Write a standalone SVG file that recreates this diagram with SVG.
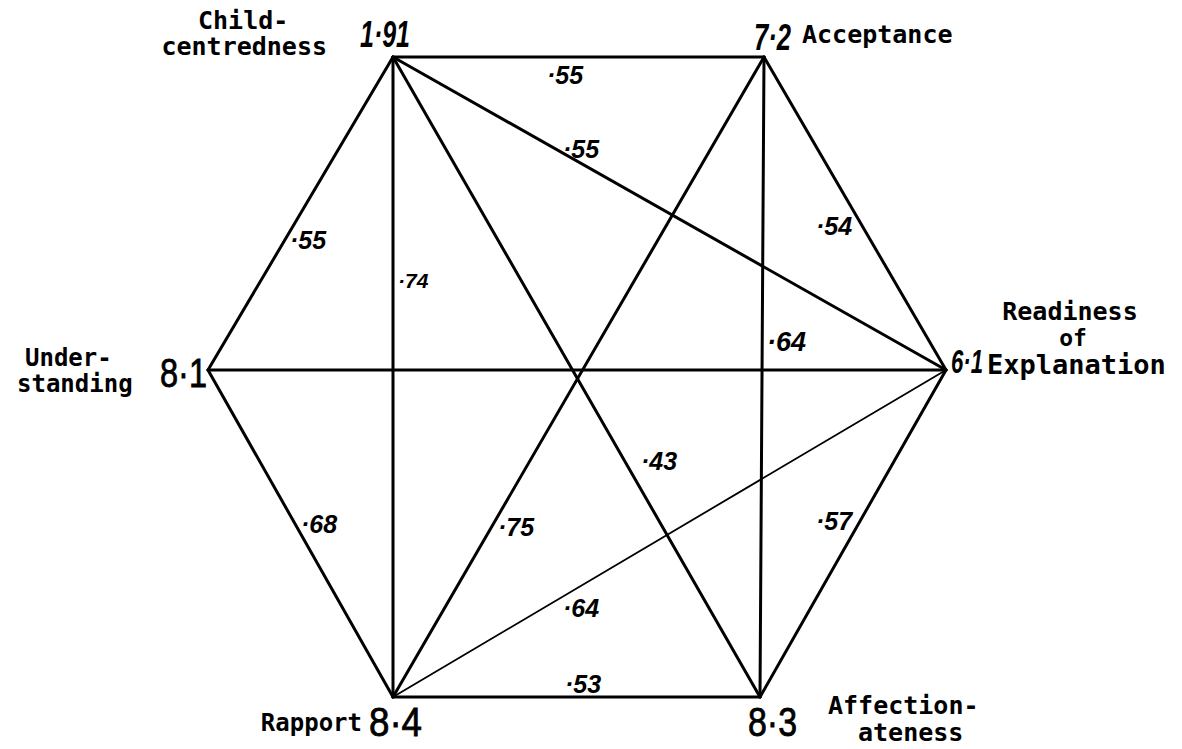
<svg xmlns="http://www.w3.org/2000/svg" width="1182" height="749" viewBox="0 0 1182 749">
<style>
.bg{fill:#fff}
.e{stroke:#000;stroke-width:3;stroke-linecap:round;fill:none}
.thin{stroke-width:1.8}
.lbl{font-family:"DejaVu Sans Mono","Liberation Mono",monospace;font-size:24px;font-weight:bold;fill:#000}
.w{font-family:"Liberation Sans",Arial,sans-serif;font-size:25px;font-weight:bold;font-style:italic;fill:#000}
.v{font-family:"Liberation Sans",Arial,sans-serif;font-size:40px;fill:#000;stroke:#000;stroke-width:0.8}
.vb{font-family:"Liberation Sans",Arial,sans-serif;font-size:36px;font-weight:bold;font-style:italic;fill:#000}
</style>
<rect class="bg" x="0" y="0" width="1182" height="749"/>
<g id="connectors">
<line class="e" x1="393" y1="57" x2="764" y2="57"/>
<line class="e" x1="393" y1="57" x2="946" y2="370"/>
<line class="e" x1="393" y1="57" x2="208" y2="370"/>
<line class="e" x1="393" y1="57" x2="393" y2="697"/>
<line class="e" x1="393" y1="57" x2="760" y2="697"/>
<line class="e" x1="764" y1="57" x2="946" y2="370"/>
<line class="e" x1="764" y1="57" x2="760" y2="697"/>
<line class="e" x1="764" y1="57" x2="393" y2="697"/>
<line class="e" x1="208" y1="370" x2="946" y2="370"/>
<line class="e" x1="208" y1="370" x2="393" y2="697"/>
<line class="e" x1="946" y1="370" x2="760" y2="697"/>
<line class="e thin" x1="946" y1="370" x2="393" y2="697"/>
<line class="e" x1="393" y1="697" x2="760" y2="697"/>
<text class="w" x="547" y="84">·55</text>
<text class="w" x="563" y="158">·55</text>
<text class="w" x="290" y="249">·55</text>
<text class="w" x="398" y="288" style="font-size:21px">·74</text>
<text class="w" x="816" y="235">·54</text>
<text class="w" x="767" y="351" style="font-size:27px">·64</text>
<text class="w" x="641" y="470">·43</text>
<text class="w" x="301" y="533">·68</text>
<text class="w" x="498" y="536">·75</text>
<text class="w" x="816" y="530">·57</text>
<text class="w" x="563" y="617">·64</text>
<text class="w" x="565" y="693">·53</text>
</g>
<g id="child-centredness">
<text class="lbl" x="198" y="29" style="font-size:25px">Child-</text>
<text class="lbl" x="327" y="55" text-anchor="end" style="font-size:25px">centredness</text>
<text class="vb" x="360" y="47" textLength="50" lengthAdjust="spacingAndGlyphs">1·91</text>
</g>
<g id="acceptance">
<text class="vb" x="754" y="50" textLength="37" lengthAdjust="spacingAndGlyphs">7·2</text>
<text class="lbl" x="802" y="43" style="font-size:25px">Acceptance</text>
</g>
<g id="readiness">
<text class="lbl" x="1070" y="320" text-anchor="middle" style="font-size:25px">Readiness</text>
<text class="lbl" x="1073" y="346" text-anchor="middle" style="font-size:23px">of</text>
<text class="vb" x="951" y="373" style="font-size:34px" textLength="32" lengthAdjust="spacingAndGlyphs">6·1</text>
<text class="lbl" x="987" y="374" style="font-size:27px">Explanation</text>
</g>
<g id="understanding">
<text class="lbl" x="25" y="366">Under-</text>
<text class="lbl" x="17" y="392">standing</text>
<text class="v" x="160" y="387" textLength="47" lengthAdjust="spacingAndGlyphs">8·1</text>
</g>
<g id="rapport">
<text class="lbl" x="362" y="731" text-anchor="end">Rapport</text>
<text class="v" x="369" y="736" textLength="53" lengthAdjust="spacingAndGlyphs">8·4</text>
</g>
<g id="affectionateness">
<text class="v" x="748" y="736" textLength="49" lengthAdjust="spacingAndGlyphs">8·3</text>
<text class="lbl" x="828" y="714" style="font-size:25px">Affection-</text>
<text class="lbl" x="858" y="741" style="font-size:25px">ateness</text>
</g>
</svg>
